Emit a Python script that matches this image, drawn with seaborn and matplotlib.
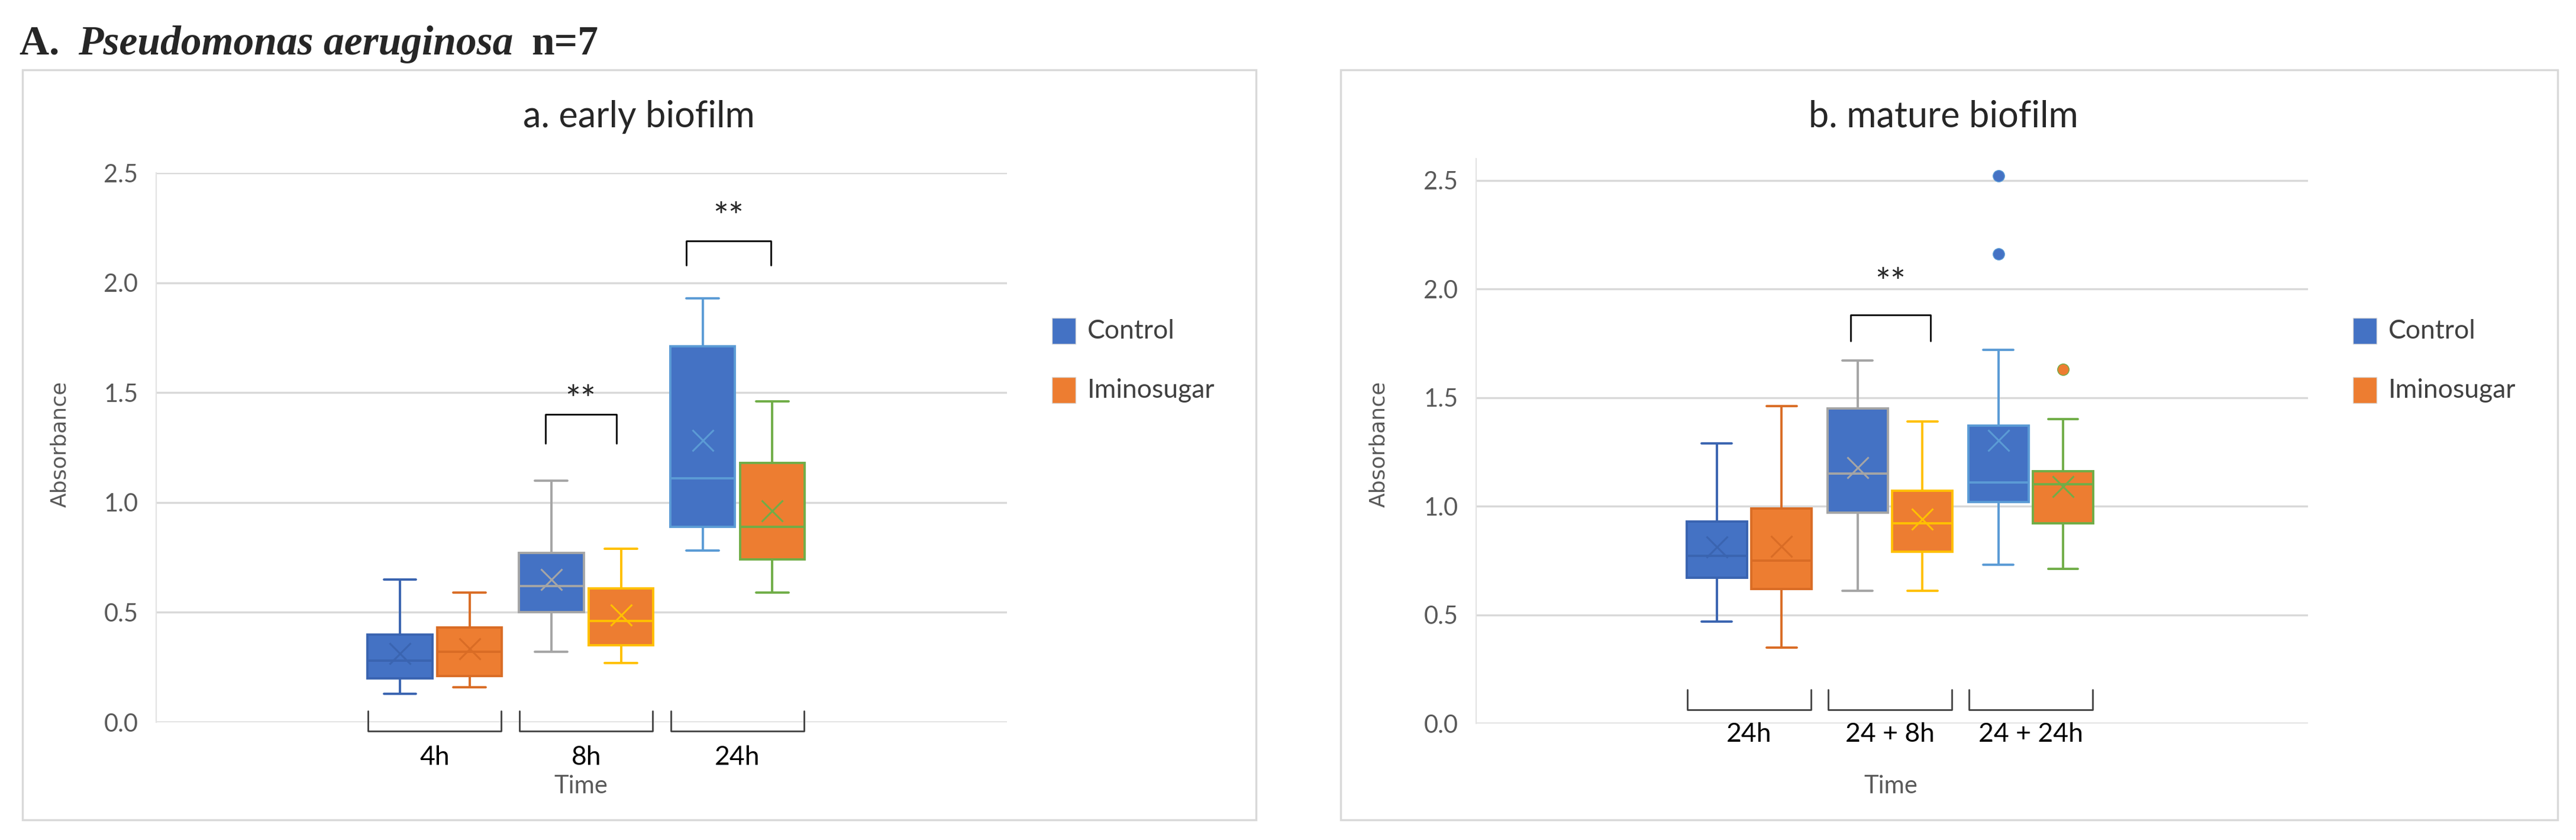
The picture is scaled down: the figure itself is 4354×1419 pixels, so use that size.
import matplotlib
matplotlib.use("Agg")
import matplotlib.pyplot as plt
from matplotlib.patches import Rectangle
import seaborn as sns
import pandas as pd

sns.set_style("white")
plt.rcParams['font.family'] = ['Liberation Sans Narrow', 'Lato', 'DejaVu Sans']

groups = ["Control", "Iminosugar"]
fills = {"Control": "#4472C4", "Iminosugar": "#ED7D31"}

# panel a: early biofilm
times_a = ["4h", "8h", "24h"]
a_4h_control = [0.13, 0.17, 0.20, 0.24, 0.28, 0.33, 0.40, 0.42, 0.65]
a_4h_imino = [0.16, 0.19, 0.21, 0.27, 0.32, 0.37, 0.43, 0.47, 0.59]
a_8h_control = [0.32, 0.45, 0.50, 0.57, 0.62, 0.70, 0.77, 0.82, 1.10]
a_8h_imino = [0.27, 0.31, 0.35, 0.42, 0.46, 0.52, 0.61, 0.65, 0.79]
a_24h_control = [0.78, 0.84, 0.89, 1.00, 1.11, 1.45, 1.71, 1.82, 1.93]
a_24h_imino = [0.59, 0.68, 0.74, 0.80, 0.89, 1.02, 1.18, 1.30, 1.46]

# panel b: mature biofilm
times_b = ["24h", "24 + 8h", "24 + 24h"]
b_24h_control = [0.47, 0.60, 0.67, 0.72, 0.77, 0.85, 0.93, 1.00, 1.29]
b_24h_imino = [0.35, 0.55, 0.62, 0.68, 0.75, 0.88, 0.99, 1.05, 1.46]
b_32h_control = [0.61, 0.85, 0.97, 1.05, 1.15, 1.30, 1.45, 1.55, 1.67]
b_32h_imino = [0.61, 0.72, 0.79, 0.85, 0.92, 1.00, 1.07, 1.12, 1.39]
b_48h_control = [0.73, 0.85, 0.95, 1.02, 1.04, 1.07, 1.11, 1.15, 1.25, 1.37, 1.72, 2.16, 2.52]
b_48h_imino = [0.71, 0.80, 0.88, 0.92, 1.00, 1.06, 1.10, 1.12, 1.14, 1.16, 1.25, 1.40, 1.63]

edge_cols = ["#3A64B0", "#D96C25", "#A5A5A5", "#FFC000", "#5B9BD5", "#70AD47"]

panel_a = [("4h", "Control", a_4h_control), ("4h", "Iminosugar", a_4h_imino),
           ("8h", "Control", a_8h_control), ("8h", "Iminosugar", a_8h_imino),
           ("24h", "Control", a_24h_control), ("24h", "Iminosugar", a_24h_imino)]
panel_b = [("24h", "Control", b_24h_control), ("24h", "Iminosugar", b_24h_imino),
           ("24 + 8h", "Control", b_32h_control), ("24 + 8h", "Iminosugar", b_32h_imino),
           ("24 + 24h", "Control", b_48h_control), ("24 + 24h", "Iminosugar", b_48h_imino)]

W, H = 4354, 1419
fig = plt.figure(figsize=(W / 100, H / 100), dpi=100)

def fx(px): return px / W
def fy(py): return 1 - py / H

# panel frames
for x0, x1 in [(38, 2123), (2266, 4323)]:
    fig.patches.append(Rectangle((fx(x0), fy(1385)), fx(x1 - x0), (1385 - 118) / H,
                                 transform=fig.transFigure, fill=False,
                                 edgecolor="#D9D9D9", linewidth=2.5))

# header, pieces placed one after another
renderer = fig.canvas.get_renderer()
xpos = 33
for txt, kw in [("A. ", dict(fontweight="bold")),
                ("Pseudomonas aeruginosa ", dict(fontstyle="italic", fontweight="bold")),
                ("n=7", dict(fontweight="bold"))]:
    t = fig.text(fx(xpos), fy(92), txt, fontsize=50, family="Liberation Serif",
                 ha="left", va="baseline", **kw)
    bb = t.get_window_extent(renderer=renderer)
    xpos += bb.width + (14 if txt.endswith(" ") else 0)

def draw_panel(ax, entries, times, ylim, title, title_x, ylabel_x, time_x,
               xlim, brk_top, brk_bot, lab_y, sig, leg_x):
    for i, (t, g, vals) in enumerate(entries):
        df = pd.DataFrame({"Time": [t] * len(vals), "Group": [g] * len(vals), "Abs": vals})
        ec = edge_cols[i]
        sns.boxplot(data=df, x="Time", y="Abs", hue="Group", order=times, hue_order=groups,
                    palette=fills, saturation=1, dodge=True, width=0.92, gap=0.07,
                    linecolor=ec, linewidth=2.8, whis=1.5, showmeans=True, legend=False, ax=ax,
                    meanprops=dict(marker="x", markeredgecolor=ec, markerfacecolor=ec,
                                   markersize=26, markeredgewidth=2.2),
                    flierprops=dict(marker="o", markerfacecolor=fills[g],
                                    markeredgecolor=ec, markersize=14),
                    boxprops=dict(edgecolor=ec))
    ax.set_ylim(*ylim)
    ax.set_xlim(*xlim)
    ax.set_yticks([0, 0.5, 1.0, 1.5, 2.0, 2.5])
    ax.set_yticklabels(["0.0", "0.5", "1.0", "1.5", "2.0", "2.5"])
    ax.tick_params(axis="y", labelsize=30, colors="#595959", length=0, pad=22)
    ax.set_xticks([])
    ax.set_xlabel("")
    ax.set_ylabel("")
    ax.yaxis.grid(True, color="#D9D9D9", linewidth=2.5)
    ax.set_axisbelow(True)
    for s in ["top", "right", "bottom"]:
        ax.spines[s].set_visible(False)
    ax.spines["left"].set_color("#E3E3E3")
    ax.spines["left"].set_linewidth(1.5)
    ax.axhline(0, color="#D9D9D9", linewidth=2.5, zorder=0)
    # group brackets below axis
    for j, t in enumerate(times):
        ax.plot([j - 0.44, j - 0.44, j + 0.44, j + 0.44], [brk_top, brk_bot, brk_bot, brk_top],
                color="#404040", linewidth=2, clip_on=False)
        ax.text(j, lab_y, t, fontsize=32, ha="center", va="center", color="black")
    # significance brackets
    for j, l, r, top, bot, star in sig:
        ax.plot([j + l, j + l, j + r, j + r], [bot, top, top, bot], color="black", linewidth=2)
        ax.text(j + (l + r) / 2, star, "**", fontsize=44, ha="center", va="center")
    fig.text(fx(title_x), fy(197), title, fontsize=44, ha="center", va="center")
    fig.text(fx(ylabel_x), fy(750), "Absorbance", fontsize=26, rotation=90, ha="center",
             va="center", color="#595959", family="DejaVu Sans")
    fig.text(fx(time_x), fy(1328), "Time", fontsize=30, ha="center", va="center",
             color="#595959")
    for k, (g, yc) in enumerate([("Control", 559), ("Iminosugar", 659)]):
        fig.patches.append(Rectangle((fx(leg_x), fy(yc + 22)), fx(40), 44 / H,
                                     transform=fig.transFigure, facecolor=fills[g],
                                     edgecolor="#D9D9D9", linewidth=1))
        fig.text(fx(leg_x + 60), fy(yc), g, fontsize=32, ha="left", va="center",
                 color="#404040")

ax1 = fig.add_axes([fx(264), fy(1220), fx(1702 - 264), (1220 - 292) / H])
draw_panel(ax1, panel_a, times_a, (0, 2.5), "a. early biofilm", 1080, 101, 982,
           (-1.84, 3.78), 0.05, -0.04, -0.16,
           [(1, -0.27, 0.20, 1.40, 1.27, 1.46), (2, -0.34, 0.22, 2.19, 2.08, 2.29)], 1778)

ax2 = fig.add_axes([fx(2495), fy(1222), fx(3901 - 2495), (1222 - 268) / H])
draw_panel(ax2, panel_b, times_b, (0, 2.6), "b. mature biofilm", 3285, 2330, 3196,
           (-1.94, 3.97), 0.155, 0.063, -0.05,
           [(1, -0.28, 0.29, 1.88, 1.76, 2.02)], 3977)

fig.savefig("out.png", dpi=100)
